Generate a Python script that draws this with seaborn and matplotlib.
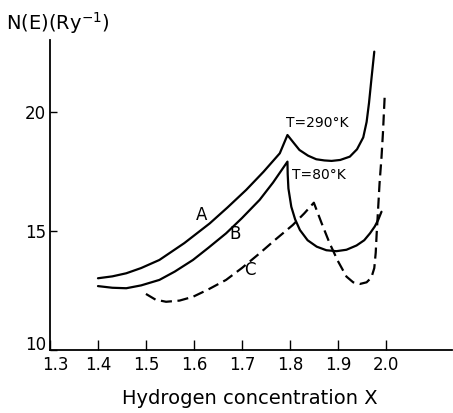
import matplotlib
matplotlib.use("Agg")
import matplotlib.pyplot as plt
import matplotlib.transforms as mtransforms
import seaborn as sns
import pandas as pd

# Curve A (T=290 K)
a_x = [1.400, 1.430, 1.459, 1.490, 1.528, 1.580, 1.633, 1.670, 1.709, 1.745, 1.779, 1.795,
       1.808, 1.820, 1.838, 1.855, 1.872, 1.887, 1.905, 1.925, 1.940, 1.953, 1.960, 1.965, 1.970, 1.976]
a_y = [13.02, 13.10, 13.23, 13.45, 13.79, 14.50, 15.33, 16.00, 16.74, 17.50, 18.28, 19.05,
       18.72, 18.42, 18.18, 18.03, 17.98, 17.96, 18.00, 18.14, 18.45, 18.95, 19.60, 20.40, 21.40, 22.56]

# Curve B (T=80 K)
b_x = [1.400, 1.430, 1.459, 1.490, 1.528, 1.560, 1.598, 1.630, 1.667, 1.700, 1.737, 1.765, 1.795,
       1.7955, 1.797, 1.803, 1.811, 1.821, 1.837, 1.856, 1.876, 1.897, 1.918, 1.939, 1.955,
       1.967, 1.977, 1.984, 1.991]
b_y = [12.69, 12.62, 12.60, 12.72, 12.95, 13.30, 13.79, 14.30, 14.91, 15.55, 16.32, 17.05, 17.93,
       17.40, 16.80, 16.03, 15.50, 15.05, 14.62, 14.35, 14.20, 14.16, 14.22, 14.40, 14.62,
       14.91, 15.20, 15.47, 15.82]

# Curve C (dashed)
c_x = [1.500, 1.520, 1.542, 1.570, 1.598, 1.630, 1.667, 1.700, 1.737, 1.770, 1.806, 1.830, 1.850,
       1.866, 1.883, 1.900, 1.918, 1.932, 1.946, 1.960, 1.970, 1.976, 1.979, 1.981, 1.984, 1.987,
       1.991, 1.994, 1.998]
c_y = [12.36, 12.12, 12.03, 12.08, 12.24, 12.55, 12.95, 13.45, 14.07, 14.65, 15.26, 15.75, 16.20,
       15.35, 14.49, 13.75, 13.09, 12.85, 12.78, 12.85, 13.05, 13.45, 14.10, 14.91, 15.95, 17.02,
       18.10, 19.12, 20.81]

x_ticks = [1.3, 1.4, 1.5, 1.6, 1.7, 1.8, 1.9, 2.0]
x_tick_labels = ["1.3", "1.4", "1.5", "1.6", "1.7", "1.8", "1.9", "2.0"]
y_ticks = [10, 15, 20]
y_tick_labels = ["10", "15", "20"]

curve_labels = {"A": (1.615, 15.68), "B": (1.685, 14.88), "C": (1.716, 13.37)}
temp_labels = {"T=290°K": (1.857, 19.57), "T=80°K": (1.860, 17.37)}

sns.set_theme(style="white")
plt.rcParams["font.family"] = ["DejaVu Sans"]
plt.rcParams["text.color"] = "black"
plt.rcParams["xtick.color"] = "black"
plt.rcParams["ytick.color"] = "black"
plt.rcParams["axes.labelcolor"] = "black"

fig = plt.figure(figsize=(4.53, 4.13), dpi=100)
ax = fig.add_axes([50 / 453, 63 / 413, 402 / 453, 310 / 413])

dfa = pd.DataFrame({"x": a_x, "y": a_y})
dfb = pd.DataFrame({"x": b_x, "y": b_y})
dfc = pd.DataFrame({"x": c_x, "y": c_y})

sns.lineplot(data=dfa, x="x", y="y", ax=ax, color="black", lw=1.6, sort=False, estimator=None)
sns.lineplot(data=dfb, x="x", y="y", ax=ax, color="black", lw=1.6, sort=False, estimator=None)
sns.lineplot(data=dfc, x="x", y="y", ax=ax, color="black", lw=1.6, sort=False, estimator=None,
             dashes=False, linestyle=(0, (5, 2.5)))

ax.set_xlim(1.3, 2.138)
ax.set_ylim(10, 23.05)
ax.set_xticks(x_ticks)
ax.set_xticklabels(x_tick_labels)
ax.set_yticks(y_ticks)
ax.set_yticklabels(y_tick_labels)
ax.tick_params(axis="x", bottom=True, direction="in", length=7, width=1, labelsize=12, pad=4, colors="black")
ax.tick_params(axis="y", left=True, direction="in", length=5, width=1, labelsize=12, pad=3, colors="black")
for s in ["top", "right"]:
    ax.spines[s].set_visible(False)
for s in ["left", "bottom"]:
    ax.spines[s].set_color("black")
    ax.spines[s].set_linewidth(1.3)

# nudge the corner labels apart as in the reference
ylab10 = ax.get_yticklabels()[0]
ylab10.set_transform(ylab10.get_transform() + mtransforms.ScaledTranslation(0, 5 / 72, fig.dpi_scale_trans))
xlab13 = ax.get_xticklabels()[0]
xlab13.set_transform(xlab13.get_transform() + mtransforms.ScaledTranslation(4 / 72, 0, fig.dpi_scale_trans))

ax.set_xlabel("")
ax.set_ylabel("")
fig.text(250 / 453, 1 - 399 / 413, "Hydrogen concentration X", ha="center", va="center", fontsize=14)
fig.text(6 / 453, 1 - 23 / 413, "N(E)(Ry$^{-1}$)", ha="left", va="center", fontsize=14)

for t, (x, y) in curve_labels.items():
    ax.text(x, y, t, ha="center", va="center", fontsize=12)
for t, (x, y) in temp_labels.items():
    ax.text(x, y, t, ha="center", va="center", fontsize=10)

fig.savefig("out.png", dpi=100)
